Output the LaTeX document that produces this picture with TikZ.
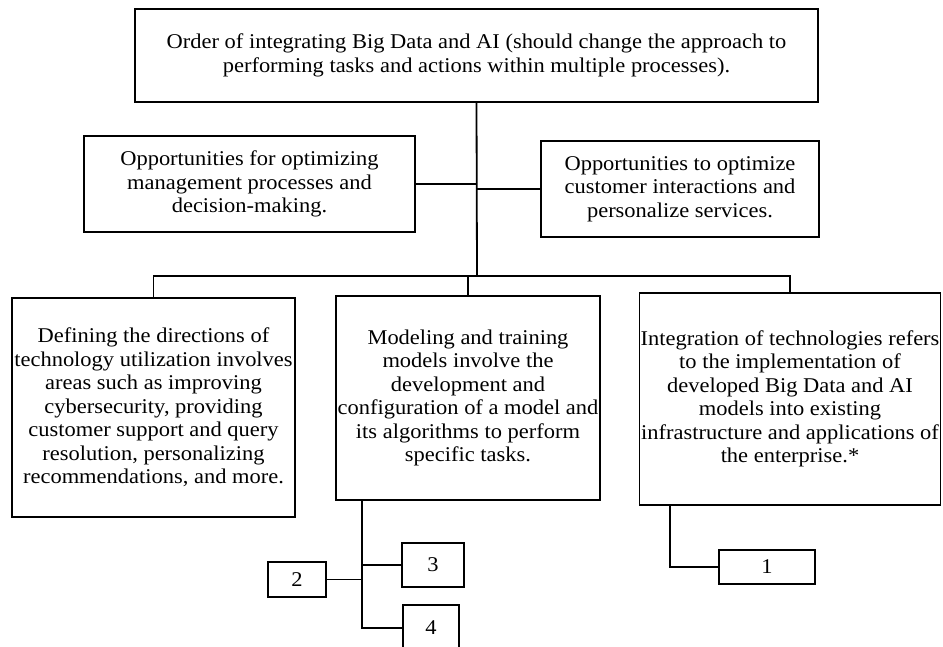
\documentclass[tikz,border=0pt]{standalone}
\usepackage{fontspec}
\setmainfont[FakeStretch=1.07]{Liberation Serif}
\usetikzlibrary{positioning, calc}
\tikzset{
  every picture/.style={x=1pt, y=-1pt, line width=1.8pt},
  box/.style={draw, align=center, inner sep=0pt, font=\fontsize{21}{23.5}\selectfont},
  numbox/.style={draw, align=center, inner sep=0pt, font=\fontsize{21}{23.5}\selectfont},
  link/.style={draw, line width=1.8pt},
}
\begin{document}
\begin{tikzpicture}
  \useasboundingbox (0,0) rectangle (943,647);
  % top level
  \node[box, minimum width=683pt, minimum height=93pt] (order) at (476.5,55.5)
    {Order of integrating Big Data and AI (should change the approach to\\performing tasks and actions within multiple processes).};
  \node[box, minimum width=331pt, minimum height=96pt] (mgmt) at (249.5,184)
    {Opportunities for optimizing\\management processes and\\decision-making.};
  \node[box, minimum width=278pt, minimum height=96pt] (cust) at (680,189)
    {Opportunities to optimize\\customer interactions and\\personalize services.};
  % three stages
  \node[box, minimum width=283pt, minimum height=219pt] (dirs) at (153.5,407.5)
    {Defining the directions of\\technology utilization involves\\areas such as improving\\cybersecurity, providing\\customer support and query\\resolution, personalizing\\recommendations, and more.};
  \node[box, minimum width=264pt, minimum height=204pt] (model) at (468,398)
    {Modeling and training\\models involve the\\development and\\configuration of a model and\\its algorithms to perform\\specific tasks.};
  \node[box, minimum width=301pt, minimum height=212pt] (integ) at (790,399)
    {Integration of technologies refers\\to the implementation of\\developed Big Data and AI\\models into existing\\infrastructure and applications of\\the enterprise.*};
  % numbered boxes
  \node[numbox, minimum width=62pt, minimum height=44pt] (n3) at (433,565) {3};
  \node[numbox, minimum width=58pt, minimum height=35pt] (n2) at (297,579.5) {2};
  \node[numbox, minimum width=56pt, minimum height=46pt] (n4) at (431,628) {4};
  \node[numbox, minimum width=96pt, minimum height=34pt] (n1) at (767,567) {1};
  % connectors
  \coordinate (bus) at (477,276);
  \draw[link] (order.south) -- (bus);
  \draw[link] (mgmt.east) -- (mgmt.east -| order.south);
  \draw[link] (cust.west) -- (cust.west -| order.south);
  \draw[link] (bus) -| (dirs.north);
  \draw[link] (bus) -| (integ.north);
  \draw[link] (model.north) -- (model.north |- bus);
  \coordinate (mtap) at ([xshift=27pt]model.south west);
  \draw[link] (mtap) |- (n4.west);
  \draw[link] (n2.east) -- (n2.east -| mtap);
  \draw[link] (n3.west) -- (n3.west -| mtap);
  \coordinate (itap) at ([xshift=31pt]integ.south west);
  \draw[link] (itap) |- (n1.west);
\end{tikzpicture}
\end{document}
